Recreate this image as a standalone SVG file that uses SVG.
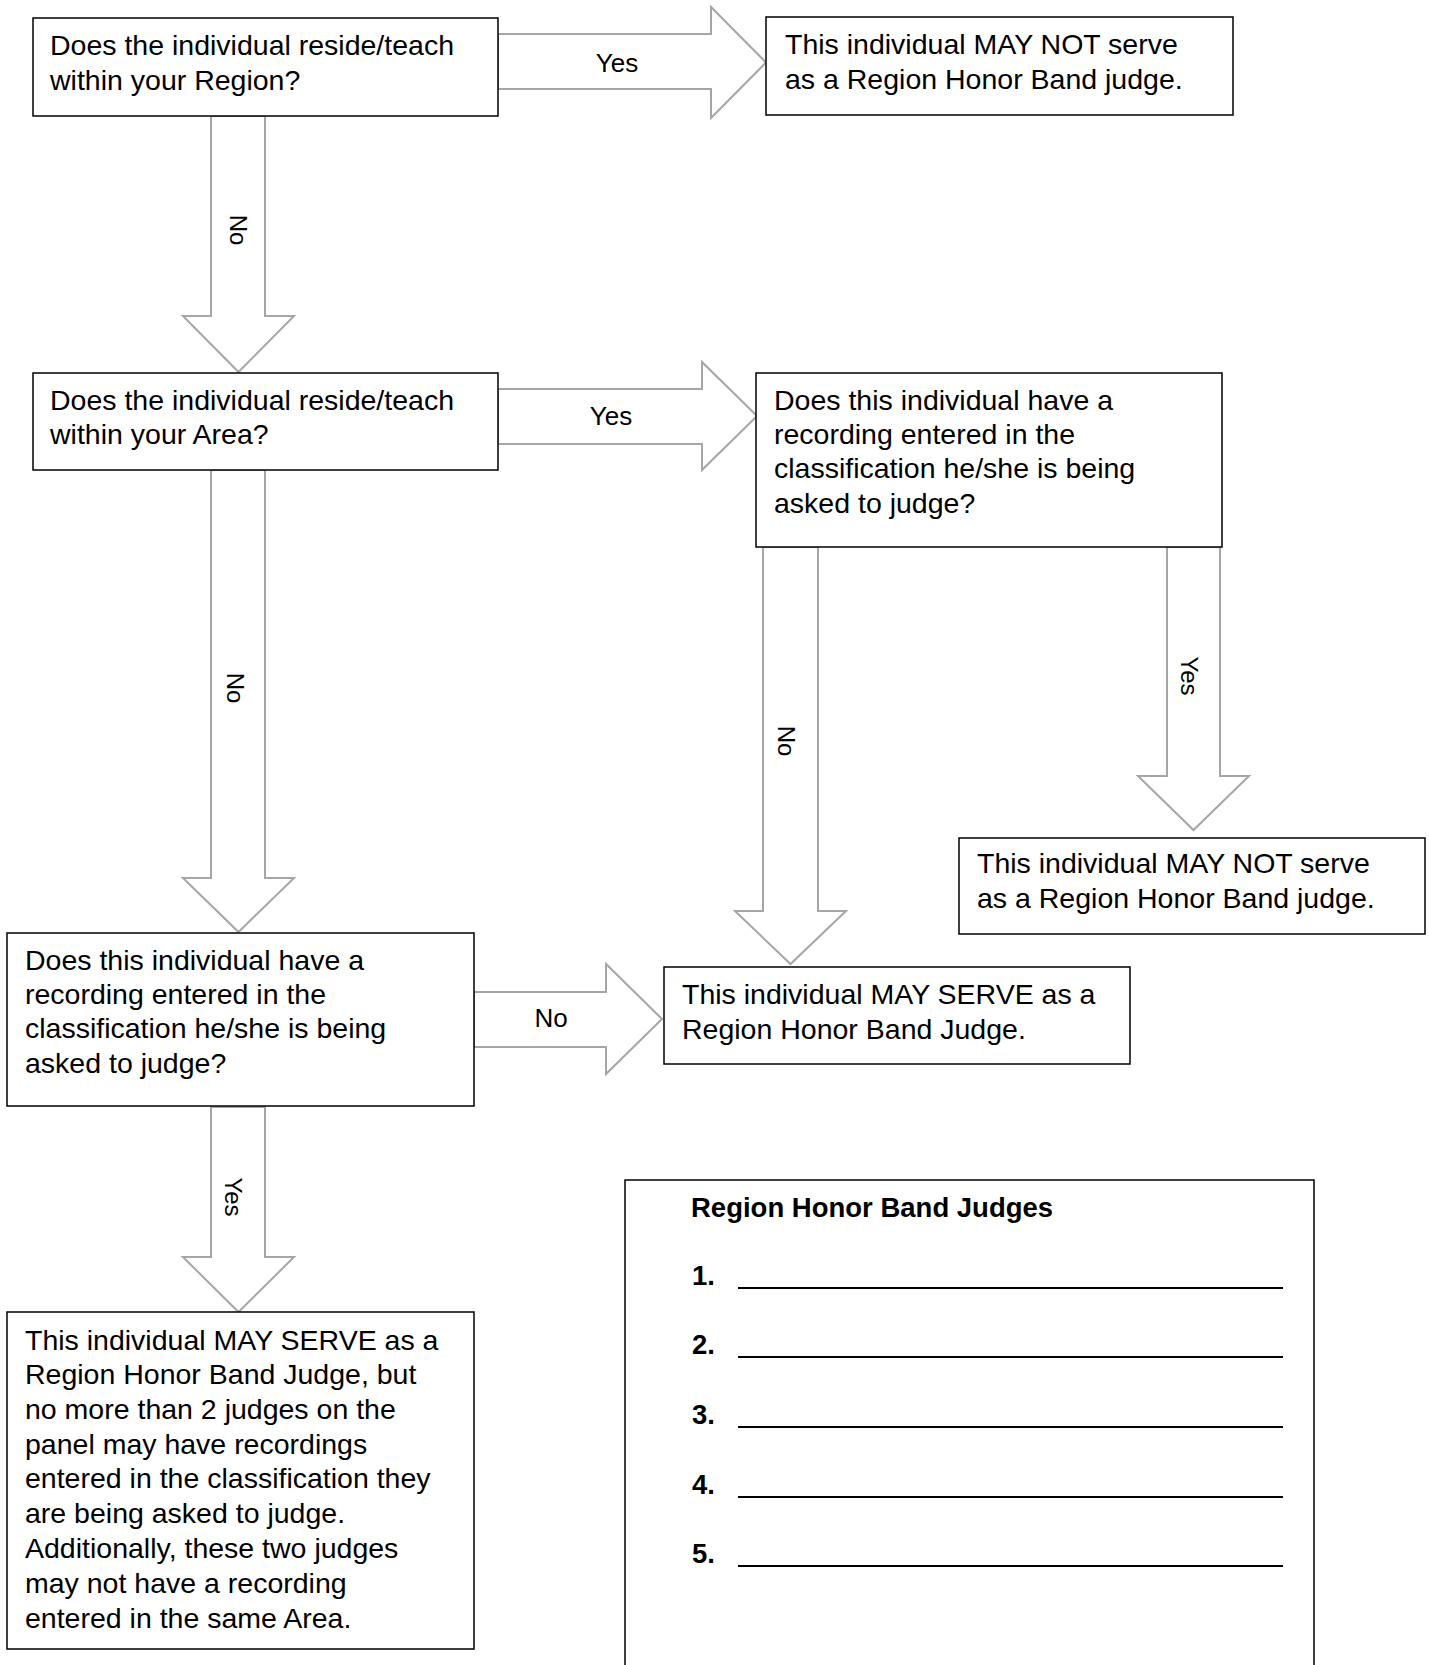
<svg xmlns="http://www.w3.org/2000/svg" width="1429" height="1665" viewBox="0 0 1429 1665">
<style>
.box{fill:#fff;stroke:#000;stroke-width:1.5}
.arr{fill:#fff;stroke:#a6a6a6;stroke-width:2;stroke-linejoin:miter}
.t{font-family:"Liberation Sans",Arial,sans-serif;font-size:28.5px;fill:#000}
.lbl{font-family:"Liberation Sans",Arial,sans-serif;font-size:26px;fill:#000;text-anchor:middle}
.rl{font-family:"Liberation Sans",Arial,sans-serif;font-size:24px;fill:#000;text-anchor:middle;dominant-baseline:central}
.b{font-family:"Liberation Sans",Arial,sans-serif;font-size:27.5px;font-weight:bold;fill:#000}
.ul{stroke:#000;stroke-width:2}
</style>
<rect width="1429" height="1665" fill="#fff"/>
<g id="connectors">
  <polygon class="arr" points="498,34 711,34 711,7 766,62.5 711,118 711,89 498,89"/>
  <text class="lbl" x="617" y="72">Yes</text>
  <polygon class="arr" points="498,389 702,389 702,362 757,416 702,470 702,444 498,444"/>
  <text class="lbl" x="611" y="425">Yes</text>
  <polygon class="arr" points="474,992 606,992 606,964 662,1019 606,1074 606,1047 474,1047"/>
  <text class="lbl" x="551" y="1027">No</text>
  <polygon class="arr" points="211,116 265,116 265,316 294,316 238.5,372 183,316 211,316"/>
  <text class="rl" transform="translate(238,230) rotate(90)">No</text>
  <polygon class="arr" points="211,470 265,470 265,878 294,878 238.5,932 183,878 211,878"/>
  <text class="rl" transform="translate(235,688) rotate(90)">No</text>
  <polygon class="arr" points="763,547 818,547 818,911 846,911 790.5,964 735,911 763,911"/>
  <text class="rl" transform="translate(786,741) rotate(90)">No</text>
  <polygon class="arr" points="1167,547 1220,547 1220,776 1249,776 1193.5,830 1138,776 1167,776"/>
  <text class="rl" transform="translate(1189,676) rotate(90)">Yes</text>
  <polygon class="arr" points="211,1107 265,1107 265,1257 294,1257 238.5,1312 183,1257 211,1257"/>
  <text class="rl" transform="translate(233,1197) rotate(90)">Yes</text>
</g>
<g id="q-region">
  <rect class="box" x="33" y="18" width="465" height="98"/>
  <text class="t" x="50" y="55">Does the individual reside/teach</text>
  <text class="t" x="50" y="90">within your Region?</text>
</g>
<g id="not-serve-1">
  <rect class="box" x="766" y="17" width="467" height="98"/>
  <text class="t" x="785" y="54">This individual MAY NOT serve</text>
  <text class="t" x="785" y="89">as a Region Honor Band judge.</text>
</g>
<g id="q-area">
  <rect class="box" x="33" y="373" width="465" height="97"/>
  <text class="t" x="50" y="410">Does the individual reside/teach</text>
  <text class="t" x="50" y="444">within your Area?</text>
</g>
<g id="q-recording-right">
  <rect class="box" x="756" y="373" width="466" height="174"/>
  <text class="t" x="774" y="410">Does this individual have a</text>
  <text class="t" x="774" y="444">recording entered in the</text>
  <text class="t" x="774" y="478">classification he/she is being</text>
  <text class="t" x="774" y="513">asked to judge?</text>
</g>
<g id="not-serve-2">
  <rect class="box" x="959" y="838" width="466" height="96"/>
  <text class="t" x="977" y="873">This individual MAY NOT serve</text>
  <text class="t" x="977" y="908">as a Region Honor Band judge.</text>
</g>
<g id="q-recording-left">
  <rect class="box" x="7" y="933" width="467" height="173"/>
  <text class="t" x="25" y="970">Does this individual have a</text>
  <text class="t" x="25" y="1004">recording entered in the</text>
  <text class="t" x="25" y="1038">classification he/she is being</text>
  <text class="t" x="25" y="1073">asked to judge?</text>
</g>
<g id="may-serve">
  <rect class="box" x="664" y="967" width="466" height="97"/>
  <text class="t" x="682" y="1004">This individual MAY SERVE as a</text>
  <text class="t" x="682" y="1039">Region Honor Band Judge.</text>
</g>
<g id="may-serve-limited">
  <rect class="box" x="7" y="1312" width="467" height="337"/>
  <text class="t" x="25" y="1350">This individual MAY SERVE as a</text>
  <text class="t" x="25" y="1384">Region Honor Band Judge, but</text>
  <text class="t" x="25" y="1419">no more than 2 judges on the</text>
  <text class="t" x="25" y="1454">panel may have recordings</text>
  <text class="t" x="25" y="1488">entered in the classification they</text>
  <text class="t" x="25" y="1523">are being asked to judge.</text>
  <text class="t" x="25" y="1558">Additionally, these two judges</text>
  <text class="t" x="25" y="1593">may not have a recording</text>
  <text class="t" x="25" y="1628">entered in the same Area.</text>
</g>
<g id="judges-list">
  <rect class="box" x="625" y="1180" width="689" height="500"/>
  <text class="b" x="691" y="1217">Region Honor Band Judges</text>
  <text class="b" x="692" y="1285">1.</text>
  <line class="ul" x1="738" y1="1288" x2="1283" y2="1288"/>
  <text class="b" x="692" y="1354">2.</text>
  <line class="ul" x1="738" y1="1357" x2="1283" y2="1357"/>
  <text class="b" x="692" y="1424">3.</text>
  <line class="ul" x1="738" y1="1427" x2="1283" y2="1427"/>
  <text class="b" x="692" y="1494">4.</text>
  <line class="ul" x1="738" y1="1497" x2="1283" y2="1497"/>
  <text class="b" x="692" y="1563">5.</text>
  <line class="ul" x1="738" y1="1566" x2="1283" y2="1566"/>
</g>
</svg>
